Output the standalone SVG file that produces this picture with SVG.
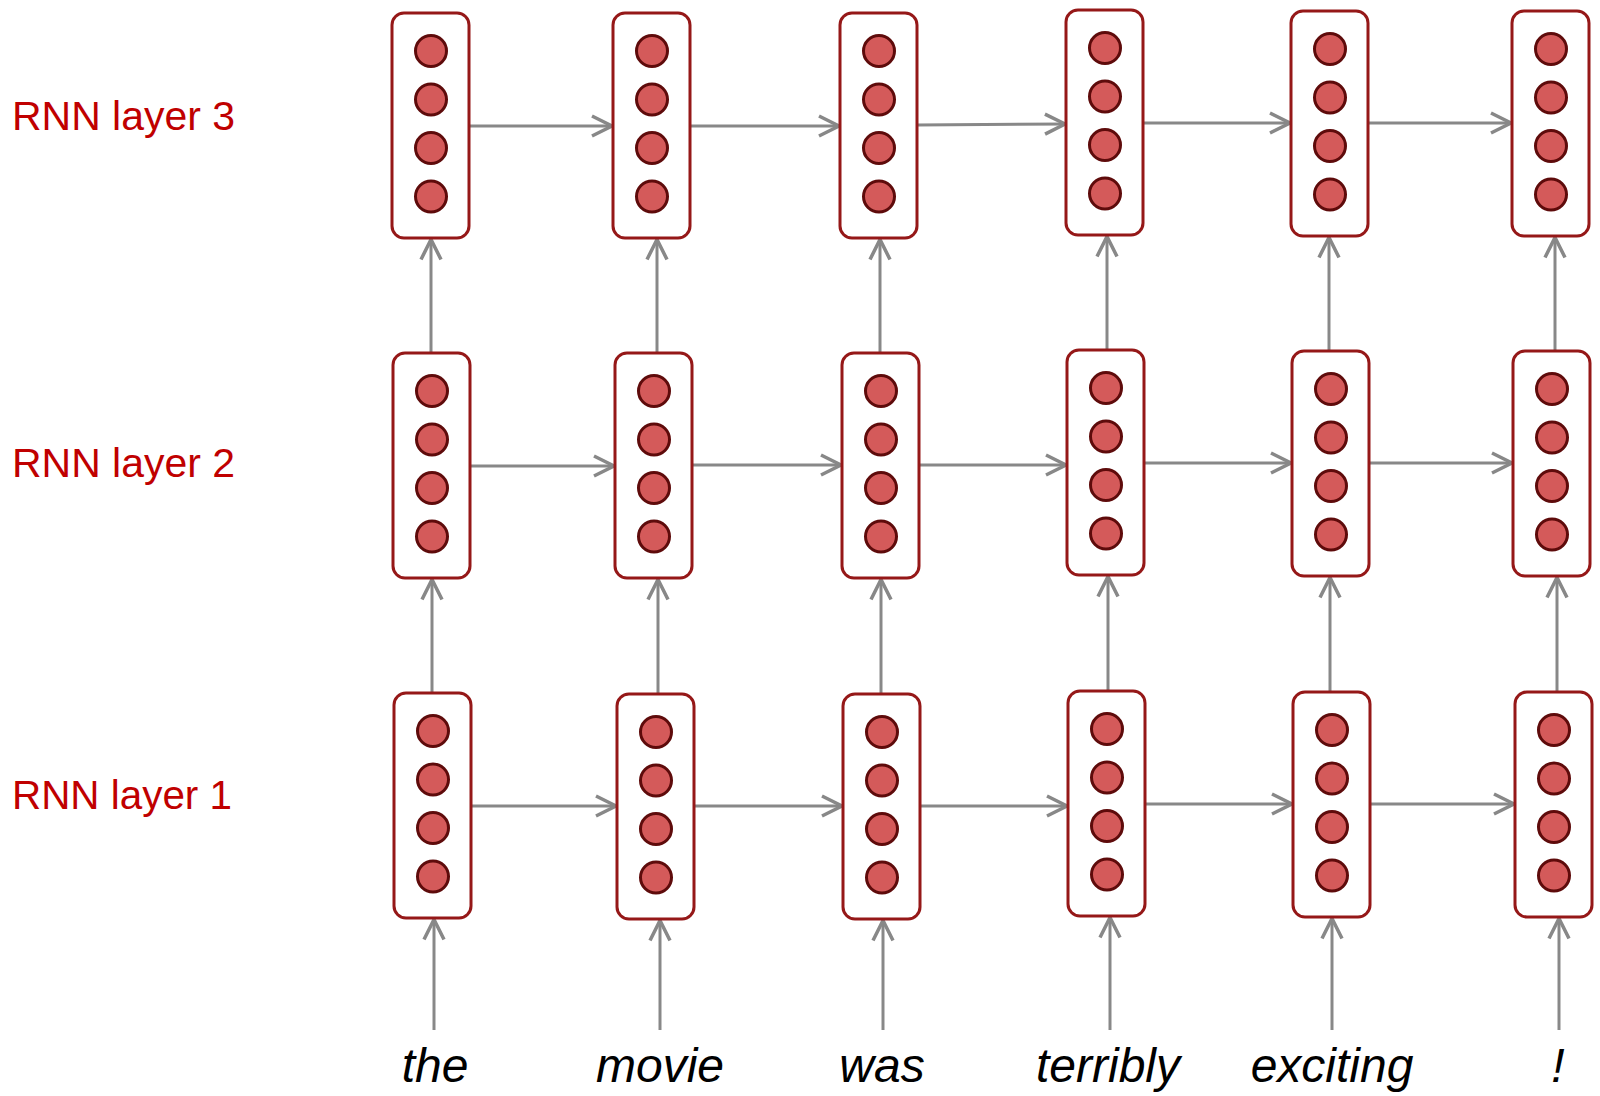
<svg xmlns="http://www.w3.org/2000/svg" width="1600" height="1096" viewBox="0 0 1600 1096">
<style>
.box{fill:#fff;stroke:#951818;stroke-width:3}
.u{fill:#D45A5A;stroke:#5E0B0B;stroke-width:3}
.ar{stroke:#888;stroke-width:3;fill:none;marker-end:url(#ah)}
.lbl{font-family:"Liberation Sans",Arial,sans-serif;font-size:40px;fill:#C00000}
.w{font-family:"Liberation Sans",Arial,sans-serif;font-size:48px;font-style:italic;fill:#000;text-anchor:middle}
</style>
<defs>
<marker id="ah" viewBox="-24 -14 28 28" refX="0" refY="0" markerWidth="28" markerHeight="28" markerUnits="userSpaceOnUse" orient="auto">
<path d="M-20,-10 L0,0 L-20,10" fill="none" stroke="#888" stroke-width="3.5" stroke-linejoin="miter"/>
</marker>
<g id="cells">
<circle class="u" cx="39" cy="38" r="15.5"/>
<circle class="u" cx="39" cy="86.5" r="15.5"/>
<circle class="u" cx="39" cy="135" r="15.5"/>
<circle class="u" cx="39" cy="183.5" r="15.5"/>
</g>
</defs>
<g id="labels">
<text class="lbl" x="12" y="130" textLength="223" lengthAdjust="spacingAndGlyphs">RNN layer 3</text>
<text class="lbl" x="12" y="477" textLength="223" lengthAdjust="spacingAndGlyphs">RNN layer 2</text>
<text class="lbl" x="12" y="809" textLength="220" lengthAdjust="spacingAndGlyphs">RNN layer 1</text>
</g>
<g id="connectors">
<!-- horizontal row 3 -->
<line class="ar" x1="469" y1="126" x2="612" y2="126"/>
<line class="ar" x1="690" y1="126" x2="839" y2="126"/>
<line class="ar" x1="917" y1="125" x2="1065" y2="124"/>
<line class="ar" x1="1143" y1="123" x2="1290" y2="123"/>
<line class="ar" x1="1368" y1="123" x2="1511" y2="123"/>
<!-- horizontal row 2 -->
<line class="ar" x1="470" y1="466" x2="614" y2="466"/>
<line class="ar" x1="692" y1="465" x2="841" y2="465"/>
<line class="ar" x1="919" y1="465" x2="1066" y2="465"/>
<line class="ar" x1="1144" y1="463" x2="1291" y2="463"/>
<line class="ar" x1="1369" y1="463" x2="1512" y2="463"/>
<!-- horizontal row 1 -->
<line class="ar" x1="471" y1="806" x2="616" y2="806"/>
<line class="ar" x1="694" y1="806" x2="842" y2="806"/>
<line class="ar" x1="920" y1="806" x2="1067" y2="806"/>
<line class="ar" x1="1145" y1="804" x2="1292" y2="804"/>
<line class="ar" x1="1370" y1="804" x2="1514" y2="804"/>
<!-- vertical row1 -> row2 -->
<line class="ar" x1="432" y1="693" x2="432" y2="579.5"/>
<line class="ar" x1="658" y1="694" x2="658" y2="579.5"/>
<line class="ar" x1="881" y1="694" x2="881" y2="579.5"/>
<line class="ar" x1="1108" y1="691" x2="1108" y2="576.5"/>
<line class="ar" x1="1330" y1="692" x2="1330" y2="577.5"/>
<line class="ar" x1="1557" y1="692" x2="1557" y2="577.5"/>
<!-- vertical row2 -> row3 -->
<line class="ar" x1="431" y1="353" x2="431" y2="239.5"/>
<line class="ar" x1="657" y1="353" x2="657" y2="239.5"/>
<line class="ar" x1="880" y1="353" x2="880" y2="239.5"/>
<line class="ar" x1="1107" y1="350" x2="1107" y2="236.5"/>
<line class="ar" x1="1329" y1="351" x2="1329" y2="237.5"/>
<line class="ar" x1="1555" y1="351" x2="1555" y2="237.5"/>
<!-- inputs -->
<line class="ar" x1="434" y1="1030" x2="434" y2="919.5"/>
<line class="ar" x1="660" y1="1030" x2="660" y2="920.5"/>
<line class="ar" x1="883" y1="1030" x2="883" y2="920.5"/>
<line class="ar" x1="1110" y1="1030" x2="1110" y2="917.5"/>
<line class="ar" x1="1332" y1="1030" x2="1332" y2="918.5"/>
<line class="ar" x1="1559" y1="1030" x2="1559" y2="918.5"/>
</g>
<g id="c1r3"><rect class="box" x="392" y="13" width="77" height="225" rx="12"/><use href="#cells" x="392" y="13"/></g>
<g id="c1r2"><rect class="box" x="393" y="353" width="77" height="225" rx="12"/><use href="#cells" x="393" y="353"/></g>
<g id="c1r1"><rect class="box" x="394" y="693" width="77" height="225" rx="12"/><use href="#cells" x="394" y="693"/></g>
<g id="c2r3"><rect class="box" x="613" y="13" width="77" height="225" rx="12"/><use href="#cells" x="613" y="13"/></g>
<g id="c2r2"><rect class="box" x="615" y="353" width="77" height="225" rx="12"/><use href="#cells" x="615" y="353"/></g>
<g id="c2r1"><rect class="box" x="617" y="694" width="77" height="225" rx="12"/><use href="#cells" x="617" y="694"/></g>
<g id="c3r3"><rect class="box" x="840" y="13" width="77" height="225" rx="12"/><use href="#cells" x="840" y="13"/></g>
<g id="c3r2"><rect class="box" x="842" y="353" width="77" height="225" rx="12"/><use href="#cells" x="842" y="353"/></g>
<g id="c3r1"><rect class="box" x="843" y="694" width="77" height="225" rx="12"/><use href="#cells" x="843" y="694"/></g>
<g id="c4r3"><rect class="box" x="1066" y="10" width="77" height="225" rx="12"/><use href="#cells" x="1066" y="10"/></g>
<g id="c4r2"><rect class="box" x="1067" y="350" width="77" height="225" rx="12"/><use href="#cells" x="1067" y="350"/></g>
<g id="c4r1"><rect class="box" x="1068" y="691" width="77" height="225" rx="12"/><use href="#cells" x="1068" y="691"/></g>
<g id="c5r3"><rect class="box" x="1291" y="11" width="77" height="225" rx="12"/><use href="#cells" x="1291" y="11"/></g>
<g id="c5r2"><rect class="box" x="1292" y="351" width="77" height="225" rx="12"/><use href="#cells" x="1292" y="351"/></g>
<g id="c5r1"><rect class="box" x="1293" y="692" width="77" height="225" rx="12"/><use href="#cells" x="1293" y="692"/></g>
<g id="c6r3"><rect class="box" x="1512" y="11" width="77" height="225" rx="12"/><use href="#cells" x="1512" y="11"/></g>
<g id="c6r2"><rect class="box" x="1513" y="351" width="77" height="225" rx="12"/><use href="#cells" x="1513" y="351"/></g>
<g id="c6r1"><rect class="box" x="1515" y="692" width="77" height="225" rx="12"/><use href="#cells" x="1515" y="692"/></g>
<g id="words">
<text class="w" x="435" y="1082">the</text>
<text class="w" x="660" y="1082">movie</text>
<text class="w" x="882" y="1082">was</text>
<text class="w" x="1108" y="1082">terribly</text>
<text class="w" x="1332" y="1082">exciting</text>
<text class="w" x="1558" y="1082">!</text>
</g>
</svg>
